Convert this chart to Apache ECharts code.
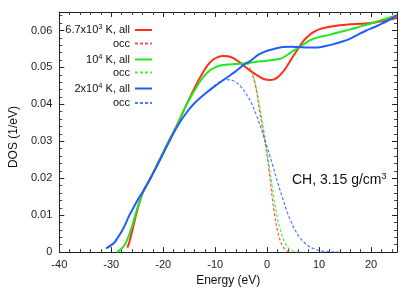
<!DOCTYPE html>
<html>
<head>
<meta charset="utf-8">
<script src="https://cdn.jsdelivr.net/npm/echarts@6/dist/echarts.min.js"></script>
<style>html,body{margin:0;padding:0;background:#fff}#c{width:415px;height:292px}</style>
</head>
<body>
<div id="c"></div>
<script>
// ---- data ----
const xTicks = [-40, -30, -20, -10, 0, 10, 20];
const yTicks = [0, 0.01, 0.02, 0.03, 0.04, 0.05, 0.06];

const redE   = [-26.9,-26.5,-26,-25.5,-25,-24.5,-24,-23.5,-22.4,-20.7,-19,-17.3,-15.5,-13.7,-12.5,-11.5,-10.5,-9.5,-8.5,-7.5,-6.5,-5.5,-4.5,-3.5,-2.5,-1.5,-0.5,0.5,1.2,2,3,4,5,6,7,8,9,10,12,14,16,18,20,22,25];
const redDos = [0.0012,0.0028,0.0055,0.0085,0.0113,0.0138,0.0158,0.0173,0.0202,0.0250,0.0298,0.0345,0.0400,0.0452,0.0483,0.0505,0.0520,0.0528,0.0531,0.0530,0.0525,0.0516,0.0505,0.0494,0.0484,0.0475,0.0468,0.0466,0.0467,0.0473,0.0487,0.0507,0.0530,0.0551,0.0572,0.0586,0.0596,0.0603,0.0610,0.0614,0.0617,0.0618,0.0620,0.0625,0.0634];

const redOccE   = [-4,-3.5,-3,-2.5,-2,-1.5,-1,-0.5,0,0.5,1,1.5,2,2.5,3,3.5,4,4.5];
const redOccDos = [0.0500,0.0494,0.0487,0.0465,0.0432,0.0387,0.0345,0.0305,0.0260,0.0205,0.0145,0.0095,0.0058,0.0032,0.0016,0.0007,0.0002,0];

const greenE   = [-28.9,-28.3,-27.7,-27.2,-26.6,-26,-25.5,-25,-24.5,-24,-23.5,-22.4,-20.7,-19,-17.3,-15.5,-14,-12.5,-11,-10,-9,-8,-6,-4,-2,0,1,2,3,4,5,6,7,8,9,10,12,14,16,18,20,22,25];
const greenDos = [0,0.0006,0.0014,0.0025,0.0045,0.0070,0.0094,0.0118,0.0140,0.0159,0.0173,0.0202,0.0250,0.0298,0.0344,0.0400,0.0437,0.0470,0.0492,0.0500,0.0505,0.0507,0.0509,0.0511,0.0515,0.0518,0.0520,0.0522,0.0526,0.0535,0.0545,0.0552,0.0562,0.0572,0.0578,0.0582,0.0588,0.0596,0.0603,0.0611,0.0619,0.0628,0.0641];

const greenOccE   = [-5,-4,-3.5,-3,-2.5,-2,-1.5,-1,-0.5,0,0.5,1,1.5,2,2.5,3,3.5,4,4.5,5,6];
const greenOccDos = [0.0510,0.0510,0.0504,0.0490,0.0468,0.0438,0.0398,0.0358,0.0315,0.0270,0.0225,0.0175,0.0128,0.0090,0.0062,0.0040,0.0023,0.0012,0.0006,0.0003,0];

const blueE   = [-31.0,-30.2,-29.4,-28.8,-28.2,-27.5,-26.9,-26.5,-25.7,-25,-24.4,-23.9,-23.5,-22.4,-20.7,-19,-17.3,-15.5,-14,-12,-10,-8,-6,-4.7,-3,-1.6,0,1.6,3,4.7,6,8,9.7,11,12.8,14.5,16,17.5,19.1,20.5,22.2,25];
const blueDos = [0.0010,0.0017,0.0026,0.0038,0.0051,0.0069,0.0088,0.0100,0.0121,0.0139,0.0153,0.0164,0.0174,0.0201,0.0247,0.0295,0.0340,0.0378,0.0403,0.0428,0.0450,0.0470,0.0490,0.0505,0.0520,0.0535,0.0545,0.0551,0.0555,0.0556,0.0555,0.0554,0.0554,0.0557,0.0563,0.0570,0.0578,0.0589,0.0600,0.0608,0.0619,0.0641];

const blueOccE   = [-11,-10,-9,-8,-7,-6,-5,-4,-3,-2,-1,0,1,2,3,4,5,6,7,8,9,10,11,12,14];
const blueOccDos = [0.0440,0.0452,0.0462,0.0467,0.0466,0.0460,0.0447,0.0428,0.0403,0.0368,0.0328,0.0285,0.0238,0.0190,0.0145,0.0103,0.0070,0.0045,0.0028,0.0016,0.0009,0.0005,0.0002,0.0001,0];

const seriesNames  = ['red_all','red_occ','green_all','green_occ','blue_all','blue_occ'];
const legendLabels = ['6.7x10{sup|3} K, all','occ','10{sup|4} K, all','occ','2x10{sup|4} K, all','occ'];
const xTitle = 'Energy (eV)';
const yTitle = 'DOS (1/eV)';
const noteText = 'CH, 3.15 g/cm{sup|3}';

// ---- build ----
const zip = (a, b) => a.map((v, i) => [v, b[i]]);
const RED = '#ff2e14', GREEN = '#22e61e', BLUE = '#1f5cff';
const FONT = "'Liberation Sans', Arial, sans-serif";

function solid(name, E, D, color, z) {
  return {name, type:'line', data: zip(E, D), showSymbol:false, symbol:'none', smooth:0.35,
    lineStyle:{color, width:2}, itemStyle:{color}, z, clip:true};
}
function dashed(name, E, D, color, z) {
  return {name, type:'line', data: zip(E, D), showSymbol:false, symbol:'none', smooth:0.35,
    lineStyle:{color, width:1.2, type:[3,2], opacity:0.8}, itemStyle:{color}, z, clip:true};
}

const rowY = [30, 43.5, 59.5, 72.5, 88.5, 103];
const legends = seriesNames.map((n, i) => ({
  data:[n], orient:'vertical', align:'right', right:262, top: rowY[i]-7,
  itemWidth:17, itemHeight:10, padding:0, selectedMode:false,
  itemStyle:{opacity:0},
  formatter: () => legendLabels[i],
  textStyle:{fontSize:11, color:'#111', fontFamily:FONT, lineHeight:14,
    rich:{sup:{fontSize:7.5, lineHeight:6, verticalAlign:'top', color:'#111', fontFamily:FONT}}}
}));

const axisCommon = () => ({
  axisLine:{show:true, onZero:false, lineStyle:{color:'#222', width:1}},
  axisTick:{show:true, inside:true, length:5, lineStyle:{color:'#222'}},
  minorTick:{show:true, splitNumber:5, length:3, lineStyle:{color:'#444'}},
  splitLine:{show:false}
});

const option = {
  animation:false,
  backgroundColor:'#fff',
  textStyle:{fontFamily:FONT},
  grid:{left:53, right:18, top:12, bottom:36},
  legend: legends,
  xAxis:[
    Object.assign({type:'value', min:-40, max:25, interval:10, position:'bottom',
      name:xTitle, nameLocation:'middle', nameGap:19,
      nameTextStyle:{fontSize:12, color:'#111', fontFamily:FONT},
      axisLabel:{fontSize:11, color:'#222', margin:7, fontFamily:FONT,
        formatter:v => xTicks.includes(v) ? String(v) : ''}}, axisCommon()),
    Object.assign({type:'value', min:-40, max:25, interval:10, position:'top',
      axisLabel:{show:false}}, axisCommon())
  ],
  yAxis:[
    Object.assign({type:'value', min:0, max:0.065, interval:0.01, position:'left',
      name:yTitle, nameLocation:'middle', nameGap:37,
      nameTextStyle:{fontSize:12, color:'#111', fontFamily:FONT, padding:[0,0,0,-10]},
      axisLabel:{fontSize:11, color:'#222', margin:7, fontFamily:FONT,
        formatter:v => { const t = yTicks.find(k => Math.abs(k - v) < 1e-9); return t === undefined ? '' : String(t); }}}, axisCommon()),
    Object.assign({type:'value', min:0, max:0.065, interval:0.01, position:'right',
      axisLabel:{show:false}}, axisCommon())
  ],
  graphic:[{
    type:'text', left:292, top:172, z:10,
    style:{text:noteText, fontSize:14, fill:'#111', fontFamily:FONT, lineHeight:16,
      rich:{sup:{fontSize:9, lineHeight:8, verticalAlign:'top', fill:'#111', fontFamily:FONT}}}
  }],
  series:[
    solid(seriesNames[0], redE, redDos, RED, 2),
    dashed(seriesNames[1], redOccE, redOccDos, RED, 3),
    solid(seriesNames[2], greenE, greenDos, GREEN, 4),
    dashed(seriesNames[3], greenOccE, greenOccDos, GREEN, 5),
    solid(seriesNames[4], blueE, blueDos, BLUE, 6),
    dashed(seriesNames[5], blueOccE, blueOccDos, BLUE, 7)
  ]
};

const chart = echarts.init(document.getElementById('c'), null, {renderer:'canvas'});
chart.setOption(option);
</script>
</body>
</html>
